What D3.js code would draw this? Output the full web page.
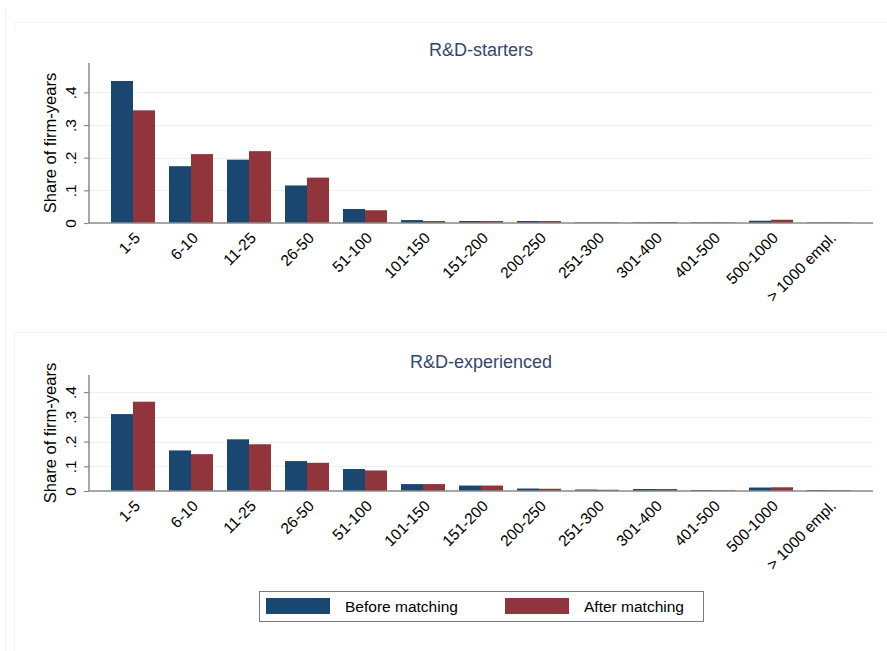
<!DOCTYPE html>
<html>
<head>
<meta charset="utf-8">
<script src="https://cdn.jsdelivr.net/npm/d3@7"></script>
<style>
  html, body { margin: 0; padding: 0; background: #fff; }
  svg { display: block; font-family: "Liberation Sans", Arial, Helvetica, sans-serif; }
</style>
</head>
<body>
<svg id="chart" width="887" height="651"></svg>
<script>
// Firm size classes (employees)
const categories = ["1-5", "6-10", "11-25", "26-50", "51-100", "101-150", "151-200",
  "200-250", "251-300", "301-400", "401-500", "500-1000", "> 1000 empl."];

// Share of firm-years, R&D starters
const startersBefore = [0.435, 0.174, 0.194, 0.115, 0.043, 0.009, 0.006, 0.006, 0.002, 0.002, 0.002, 0.007, 0.002];
const startersAfter  = [0.345, 0.211, 0.220, 0.139, 0.039, 0.006, 0.006, 0.006, 0.002, 0.003, 0.002, 0.010, 0.002];

// Share of firm-years, R&D experienced
const experiencedBefore = [0.311, 0.164, 0.209, 0.121, 0.089, 0.028, 0.022, 0.010, 0.006, 0.008, 0.004, 0.014, 0.004];
const experiencedAfter  = [0.361, 0.149, 0.189, 0.114, 0.083, 0.028, 0.022, 0.009, 0.005, 0.008, 0.003, 0.015, 0.003];

const seriesNames = ["Before matching", "After matching"];
const yTickValues = [0, 0.1, 0.2, 0.3, 0.4];
const yTickLabels = ["0", ".1", ".2", ".3", ".4"];
const panelTitles = ["R&D-starters", "R&D-experienced"];

const colors = { "Before matching": "#1a476f", "After matching": "#90353b" };

const svg = d3.select("#chart");

// faint graph-region borders
const faint = svg.append("g").attr("fill", "none");
faint.append("line").attr("x1", 5.5).attr("x2", 5.5).attr("y1", 9).attr("y2", 651)
  .attr("stroke", "#efefef");
faint.append("path").attr("d", "M14.5,30 V22.5 H887").attr("stroke", "#eef5f6");
faint.append("path").attr("d", "M14.5,651 V332.5 H887").attr("stroke", "#eef5f6");

const x0 = d3.scaleBand().domain(categories).range([89, 873])
  .paddingInner(0.241).paddingOuter(0.379);
const x1 = d3.scaleBand().domain(seriesNames).range([0, x0.bandwidth()]);

function panel(title, before, after, top, zero, yMax, titleY) {
  const rows = categories.map((c, i) => ({ cat: c, "Before matching": before[i], "After matching": after[i] }));
  const y = d3.scaleLinear().domain([0, yMax]).range([zero, top]);
  const g = svg.append("g");

  // gridlines
  g.append("g").selectAll("line").data(yTickValues.filter(v => v > 0)).join("line")
    .attr("x1", 89).attr("x2", 873)
    .attr("y1", d => Math.round(y(d)) + 0.5).attr("y2", d => Math.round(y(d)) + 0.5)
    .attr("stroke", "#eaf2f5").attr("stroke-width", 1);

  // bars
  g.append("g").selectAll("g").data(rows).join("g")
    .attr("transform", d => `translate(${x0(d.cat)},0)`)
    .selectAll("rect").data(d => seriesNames.map(k => ({ key: k, value: d[k] }))).join("rect")
    .attr("x", d => x1(d.key))
    .attr("width", x1.bandwidth())
    .attr("y", d => y(d.value))
    .attr("height", d => y(0) - y(d.value))
    .attr("fill", d => colors[d.key]);

  // y axis
  const yAxis = d3.axisLeft(y).tickValues(yTickValues)
    .tickFormat((d, i) => yTickLabels[i]).tickSize(5).tickPadding(8);
  const ya = g.append("g").attr("transform", "translate(89,0)").call(yAxis);
  ya.select(".domain").attr("stroke", "#8a8a8a").attr("stroke-width", 1.5)
    .attr("d", `M0,${top}V${zero}`);
  ya.selectAll(".tick line").attr("stroke", "#8a8a8a").attr("stroke-width", 1.2);
  ya.selectAll(".tick text")
    .attr("transform", "rotate(-90)")
    .attr("x", 0).attr("y", -13)
    .attr("text-anchor", "middle")
    .attr("dy", 0)
    .attr("font-size", 15.5).attr("fill", "#000");

  // x axis
  const xAxis = d3.axisBottom(x0).tickSize(0).tickPadding(0);
  const xa = g.append("g").attr("transform", `translate(0,${zero})`).call(xAxis);
  xa.select(".domain").attr("stroke", "#8a8a8a").attr("stroke-width", 1.5)
    .attr("d", "M89,0H873");
  xa.selectAll(".tick text")
    .attr("text-anchor", "end")
    .attr("dy", 0)
    .attr("y", 0)
    .attr("transform", "translate(8,16) rotate(-45)")
    .attr("font-size", 15.5).attr("fill", "#000");

  // axis title
  g.append("text")
    .attr("transform", `translate(56,${(top + zero) / 2}) rotate(-90)`)
    .attr("text-anchor", "middle")
    .attr("font-size", 16.5).attr("fill", "#000")
    .text("Share of firm-years");

  // panel title
  g.append("text")
    .attr("x", 481).attr("y", titleY)
    .attr("text-anchor", "middle")
    .attr("font-size", 18).attr("fill", "#34466e")
    .text(title);
}

panel(panelTitles[0], startersBefore, startersAfter, 63, 223, 0.49, 56);
panel(panelTitles[1], experiencedBefore, experiencedAfter, 375, 491, 0.469, 368);

// legend
const lg = svg.append("g");
lg.append("rect").attr("x", 259.5).attr("y", 591.5).attr("width", 444).attr("height", 30)
  .attr("fill", "#fff").attr("stroke", "#7a7a7a").attr("stroke-width", 1);
const legendX = [266, 505];
seriesNames.forEach((s, i) => {
  lg.append("rect").attr("x", legendX[i]).attr("y", 598).attr("width", 64).attr("height", 16)
    .attr("fill", colors[s]);
  lg.append("text").attr("x", legendX[i] + 79).attr("y", 611.5)
    .attr("font-size", 15.5).attr("fill", "#000").text(s);
});
</script>
</body>
</html>
